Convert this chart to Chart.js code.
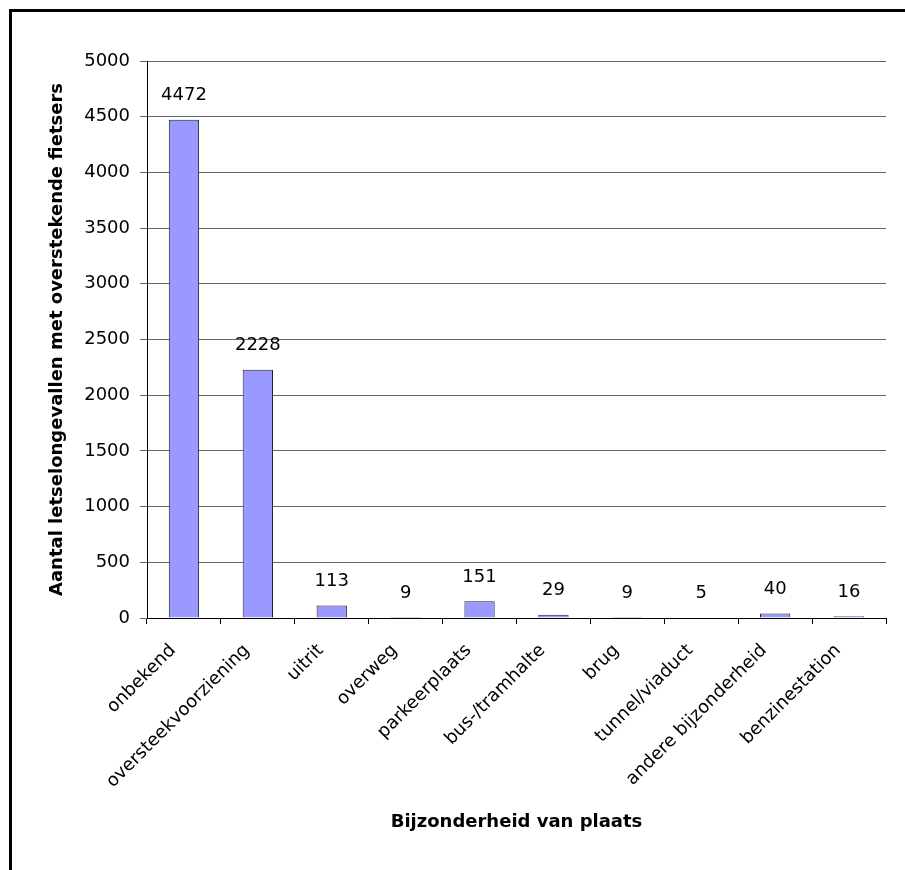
<!DOCTYPE html>
<html>
<head>
<meta charset="utf-8">
<script src="https://cdn.jsdelivr.net/npm/chart.js@4.4.1/dist/chart.umd.min.js"></script>
<style>
  html, body { margin: 0; padding: 0; background: #fff; }
  #wrap { width: 905px; height: 870px; position: relative; }
</style>
</head>
<body>
<div id="wrap"><canvas id="c" width="905" height="870"></canvas></div>
<script>
// Letselongevallen met overstekende fietsers, naar bijzonderheid van plaats
const categories = [
  'onbekend', 'oversteekvoorziening', 'uitrit', 'overweg', 'parkeerplaats',
  'bus-/tramhalte', 'brug', 'tunnel/viaduct', 'andere bijzonderheid', 'benzinestation'
];
const ongevallen = [4472, 2228, 113, 9, 151, 29, 9, 5, 40, 16];
const yMin = 0;
const yMax = 5000;
const yStep = 500;

const FONT = 'DejaVu Sans';

// white page with a black frame on the top and left edge
const framePlugin = {
  id: 'frame',
  beforeDraw(chart) {
    const ctx = chart.ctx;
    ctx.save();
    ctx.fillStyle = '#fff';
    ctx.fillRect(0, 0, chart.width, chart.height);
    ctx.fillStyle = '#000';
    ctx.fillRect(9, 9, chart.width - 9, 3);
    ctx.fillRect(9, 9, 3, chart.height - 9);
    ctx.restore();
  }
};

// value written above every bar
const valueLabels = {
  id: 'valueLabels',
  afterDatasetsDraw(chart) {
    const ctx = chart.ctx;
    const meta = chart.getDatasetMeta(0);
    const data = chart.data.datasets[0].data;
    ctx.save();
    ctx.font = '18px "' + FONT + '"';
    ctx.fillStyle = '#000';
    ctx.textAlign = 'center';
    ctx.textBaseline = 'middle';
    meta.data.forEach((bar, i) => {
      ctx.fillText(String(data[i]), bar.x, bar.y - 24);
    });
    ctx.restore();
  }
};

new Chart(document.getElementById('c'), {
  type: 'bar',
  data: {
    labels: categories,
    datasets: [{
      data: ongevallen,
      backgroundColor: '#9999FF',
      borderColor: '#222',
      borderWidth: 1,
      barPercentage: 0.41,
      categoryPercentage: 1.0
    }]
  },
  options: {
    responsive: false,
    animation: false,
    devicePixelRatio: 1,
    layout: { padding: { top: 61, right: 19, left: 0, bottom: 0 } },
    plugins: {
      legend: { display: false },
      tooltip: { enabled: false }
    },
    scales: {
      x: {
        grid: {
          offset: true,
          drawOnChartArea: false,
          drawTicks: true,
          tickLength: 6,
          color: '#000'
        },
        border: { display: true, color: '#000', width: 1 },
        ticks: {
          autoSkip: false,
          minRotation: 45,
          maxRotation: 45,
          padding: 16,
          labelOffset: -11,
          color: '#000',
          font: { family: FONT, size: 18 }
        },
        title: {
          display: true,
          text: 'Bijzonderheid van plaats',
          color: '#000',
          font: { family: FONT, size: 18, weight: 'bold' },
          padding: { top: 0, bottom: 37 }
        },
        afterFit(scale) { scale.height = 252; }
      },
      y: {
        min: yMin,
        max: yMax,
        grid: {
          color: '#666',
          lineWidth: 1,
          tickLength: 7
        },
        border: { display: true, color: '#000', width: 1 },
        ticks: {
          stepSize: yStep,
          padding: 10,
          color: '#000',
          font: { family: FONT, size: 18 },
          callback: (v) => String(v)
        },
        title: {
          display: true,
          text: 'Aantal letselongevallen met overstekende fietsers',
          color: '#000',
          font: { family: FONT, size: 18, weight: 'bold' },
          padding: { top: 47, bottom: 0 }
        },
        afterFit(scale) { scale.width = 147; }
      }
    }
  },
  plugins: [framePlugin, valueLabels]
});
</script>
</body>
</html>
